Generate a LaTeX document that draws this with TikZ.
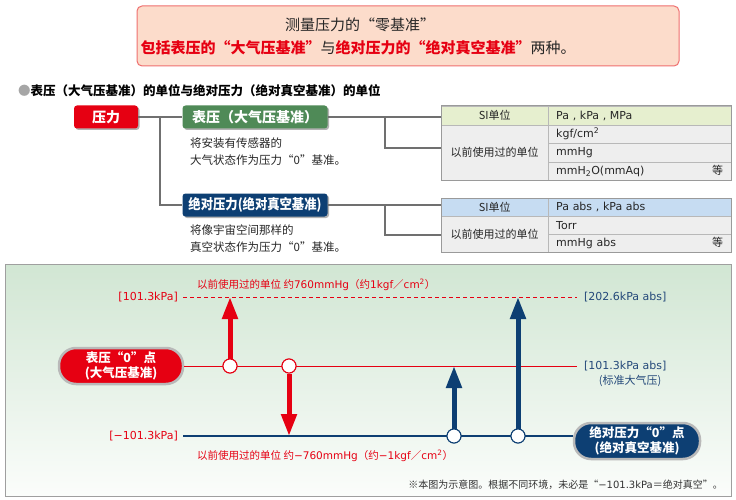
\documentclass[tikz,border=0pt]{standalone}
\usepackage{fontspec}
\setmainfont{Noto Sans CJK SC}
\newfontfamily\lat{DejaVu Sans}
\usetikzlibrary{arrows.meta,shadows}
\definecolor{redC}{HTML}{E60012}
\definecolor{blueC}{HTML}{0D3F73}
\definecolor{navyT}{HTML}{24497A}
\definecolor{greenC}{HTML}{4F8A57}
\definecolor{pinkF}{HTML}{FCDCCB}
\definecolor{pinkB}{HTML}{EF6F6F}
\definecolor{siG}{HTML}{E6EFCF}
\definecolor{siB}{HTML}{C6DCF2}
\definecolor{grayF}{HTML}{EEEEEE}
\definecolor{tgray}{HTML}{9A9A9A}
\definecolor{connC}{HTML}{707070}
\definecolor{panTop}{HTML}{D1E6D3}
\definecolor{panBot}{HTML}{FBFDFB}
\newcommand{\fsz}[2]{\fontsize{#1}{#2}\selectfont}
\begin{document}
\begin{tikzpicture}[x=1pt,y=-1pt,
  pbox/.style={rounded corners=3pt, minimum height=23pt, text=white, inner sep=0pt,
    font=\fsz{14}{16}\bfseries,
    drop shadow={shadow xshift=1.5pt, shadow yshift=-1.5pt, fill=black, opacity=0.3}},
  conn/.style={draw=connC, line width=1.2pt},
  desc/.style={align=left, inner sep=0pt, font=\fsz{11.5}{17}, text=black!85},
  cellL/.style={draw=tgray!70, anchor=north west, inner sep=0pt, minimum width=107pt,
    font=\fsz{11}{13}, text=black!85},
  cellR/.style={draw=tgray!70, anchor=north west, inner ysep=0pt, inner xsep=8pt,
    text width=167pt, align=left, font=\fsz{11}{13}, text=black!85},
  tborder/.style={draw=tgray, line width=1pt},
  pill/.style={rounded corners=17pt, draw=gray!55, line width=2.5pt, text=white,
    align=center, inner sep=0pt, minimum height=36pt, font=\fsz{12.5}{15.5}\bfseries},
  circ/.style={circle, fill=white, line width=1pt, minimum size=14pt, inner sep=0pt},
  arrR/.style={draw=redC, line width=5pt, -{Triangle[width=15pt,length=22pt]}},
  arrB/.style={draw=blueC, line width=5pt, -{Triangle[width=15pt,length=22pt]}},
  lab/.style={inner sep=0pt, font=\fsz{10.5}{12}}
]
\useasboundingbox (0,0) rectangle (736,500);
\fill[white] (0,0) rectangle (736,500);

% ---------- top box
\node[draw=pinkB, fill=pinkF, rounded corners=5pt, line width=1pt,
      minimum width=542pt, minimum height=60pt] (top) at (408,36) {};
\node[font=\fsz{15}{17}, text=black!85] (l1) at (360,25) {测量压力的“零基准”};
\node[font=\fsz{15}{17}, text=black!85] (l2) at (358,48)
  {{\color{redC}\bfseries 包括表压的“大气压基准”}与{\color{redC}\bfseries 绝对压力的“绝对真空基准”}两种。};

% ---------- heading
\node[anchor=west, inner sep=0pt, font=\fsz{12.5}{14}\bfseries] (head) at (18,91)
  {{\color{gray!70}●}表压（大气压基准）的单位与绝对压力（绝对真空基准）的单位};

% ---------- tree
\node[pbox, fill=redC, minimum width=64pt] (p) at (106,117) {压力};
\node[pbox, fill=greenC, minimum width=145pt] (g) at (255,117) {表压（大气压基准）};
\node[pbox, fill=blueC, minimum width=145pt] (b) at (255,205)
  {\scalebox{0.88}[1]{绝对压力(绝对真空基准)}};
\coordinate (br1) at (160,117);
\draw[conn] (p.east) -- (g.west);
\draw[conn] (br1) |- (b.west);

\node[desc, anchor=west] (gd) at (190,152) {将安装有传感器的\\大气状态作为压力“0”基准。};
\node[desc, anchor=west] (bd) at (190,239) {将像宇宙空间那样的\\真空状态作为压力“0”基准。};

% ---------- table 1
\node[cellL, fill=siG, minimum height=19pt] (t1a) at (441,106) {SI单位};
\node[cellR, fill=siG, minimum height=19pt] (t1b) at (548,106) {{\lat Pa , kPa , MPa}};
\node[cellL, fill=grayF, minimum height=55pt] (t1c) at (441,125) {以前使用过的单位};
\node[cellR, fill=grayF, minimum height=18pt] (t1d) at (548,125) {{\lat kgf/cm\textsuperscript{2}}};
\node[cellR, fill=grayF, minimum height=19pt] (t1e) at (548,143) {{\lat mmHg}};
\node[cellR, fill=grayF, minimum height=18pt] (t1f) at (548,162) {{\lat mmH\textsubscript{2}O(mmAq)}\hfill 等};
\draw[tborder] (t1a.north west) rectangle (t1f.south east);

% ---------- table 2
\node[cellL, fill=siB, minimum height=18pt] (t2a) at (441,198) {SI单位};
\node[cellR, fill=siB, minimum height=18pt] (t2b) at (548,198) {{\lat Pa abs , kPa abs}};
\node[cellL, fill=grayF, minimum height=36pt] (t2c) at (441,216) {以前使用过的单位};
\node[cellR, fill=grayF, minimum height=18pt] (t2d) at (548,216) {{\lat Torr}};
\node[cellR, fill=grayF, minimum height=18pt] (t2e) at (548,234) {{\lat mmHg abs}\hfill 等};
\draw[tborder] (t2a.north west) rectangle (t2e.south east);

% ---------- tree to tables
\coordinate (br2) at (385,117);
\coordinate (j1) at (441,148);
\draw[conn] (g.east) -- (g.east -| t1a.west);
\draw[conn] (br2) |- (j1);
\coordinate (br3) at (385,205);
\coordinate (j2) at (441,235);
\draw[conn] (b.east) -- (b.east -| t2a.west);
\draw[conn] (br3) |- (j2);

% ---------- bottom panel
\shade[top color=panTop, bottom color=panBot] (5,264) rectangle (731,496);
\draw[draw=gray!75, line width=1pt] (5,264) rectangle (731,496);

\coordinate (dS) at (183,297);
\coordinate (dE) at (577,297);
\draw[draw=redC, line width=1pt, dash pattern=on 4pt off 3pt] (dS) -- (dE);

\node[pill, fill=redC, minimum width=124pt] (zg) at (121,366) {表压“0”点\\(大气压基准)};
\node[pill, fill=blueC, minimum width=126pt] (za) at (637,441) {绝对压力“0”点\\(绝对真空基准)};

\coordinate (rE) at (577,366);
\draw[draw=redC, line width=1pt] (zg.east) -- (rE);
\coordinate (bS) at (183,436);
\draw[draw=blueC, line width=1.2pt] (bS) -- (bS -| za.west);

\node[circ, draw=redC] (c1) at (230,366) {};
\node[circ, draw=redC] (c2) at (289,366) {};
\node[circ, draw=blueC] (c3) at (454,436) {};
\node[circ, draw=blueC] (c4) at (518,436) {};
\coordinate (a1) at (230,297);
\coordinate (a2) at (289,436);
\coordinate (a3) at (454,366);
\coordinate (a4) at (518,297);
\draw[arrR] (c1.north) -- (a1);
\draw[arrR] (c2.south) -- (a2);
\draw[arrB] (c3.north) -- (a3);
\draw[arrB] (c4.north) -- (a4);
\node[circ, draw=redC] at (c1) {};
\node[circ, draw=redC] at (c2) {};
\node[circ, draw=blueC] at (c3) {};
\node[circ, draw=blueC] at (c4) {};

\node[lab, text=redC, anchor=east, font=\fsz{11}{12}\lat] (l101) at (178,297) {[101.3kPa]};
\node[lab, text=redC, anchor=east, font=\fsz{11}{12}\lat] (lm101) at (178,436) {[−101.3kPa]};
\node[lab, text=navyT, anchor=west, font=\fsz{11}{12}\lat] (l202) at (584,297) {[202.6kPa abs]};
\node[lab, text=navyT, anchor=west, font=\fsz{11}{12}\lat] (l101a) at (584,366) {[101.3kPa abs]};
\node[lab, text=navyT, font=\fsz{11}{12}] (std) at (630,381) {(标准大气压)};

\node[lab, text=redC, anchor=west] (u1) at (197,285)
  {以前使用过的单位 约{\lat 760mmHg}（约{\lat 1kgf}／{\lat cm\textsuperscript{2}}）};
\node[lab, text=redC, anchor=west] (u2) at (197,456)
  {以前使用过的单位 约{\lat −760mmHg}（约{\lat −1kgf}／{\lat cm\textsuperscript{2}}）};

\node[lab, anchor=east, font=\fsz{10}{12}, text=black!80] (fn) at (723,485)
  {※本图为示意图。根据不同环境，未必是“{\lat −101.3kPa}＝绝对真空”。};
\end{tikzpicture}
\end{document}
